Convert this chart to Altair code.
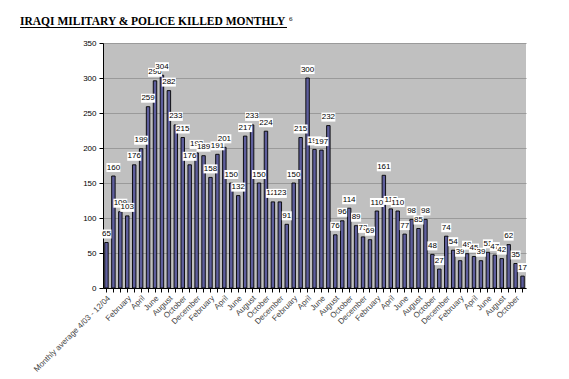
import json
import altair as alt
import pandas as pd

TITLE = "IRAQI MILITARY & POLICE KILLED MONTHLY"
FOOTNOTE = "6"

months = ["January", "February", "March", "April", "May", "June", "July",
          "August", "September", "October", "November", "December"]

categories = (["Monthly average 4/03 - 12/04", "", ""]
              + months * 4 + months[:11])

values = [65, 160, None,
          109, 103, 176, 199, 259, 296, 304, 282, 233, 215, 176, 193,
          189, 158, 191, 201, 150, 132, 217, 233, 150, 224, 123, 123,
          91, 150, 215, 300, 198, 197, 232, 76, 96, 114, 89, 73,
          69, 110, 161, 113, 110, 77, 98, 85, 98, 48, 27, 74,
          54, 39, 49, 45, 39, 51, 47, 42, 62, 35, 17]

y_ticks = [0, 50, 100, 150, 200, 250, 300, 350]

df = pd.DataFrame({"idx": list(range(len(categories))),
                   "cat": categories, "value": values})
df["w"] = df["value"].apply(lambda v: 14 if (v == v and v is not None and v >= 100) else 10)

shown = [c if i % 2 == 0 else "" for i, c in enumerate(categories)]
label_expr = json.dumps(shown) + "[datum.value]"

x_enc = alt.X("idx:O", sort=None, title=None,
              scale=alt.Scale(paddingInner=0.5, paddingOuter=0.25),
              axis=alt.Axis(labelExpr=label_expr, labelAngle=-45,
                            labelFont="Liberation Sans", labelFontSize=8,
                            labelColor="#444444", labelOverlap=False,
                            labelPadding=2, tickSize=4, tickColor="#000000",
                            domainColor="#000000", grid=False))
y_enc = alt.Y("value:Q", title=None,
              scale=alt.Scale(domain=[0, 350], nice=False),
              axis=alt.Axis(values=y_ticks, tickCount=8, tickSize=4,
                            tickColor="#000000", labelOverlap=False,
                            domainColor="#000000", labelFont="Liberation Sans",
                            labelFontSize=8, labelColor="#000000",
                            labelPadding=3, grid=True, gridColor="#9A9A9A"))

base = alt.Chart(df)

bars = base.mark_bar(fill="#5E5E9C", stroke="#000000", strokeWidth=0.9).encode(
    x=x_enc, y=y_enc)

# data labels: white box + number, drawn bar by bar so later boxes cover earlier text
label_layers = []
for i, v in enumerate(values):
    if v is None:
        continue
    sub = base.transform_filter(alt.datum.idx == i)
    label_layers.append(sub.mark_bar(fill="#FFFFFF", yOffset=-4, y2Offset=-13).encode(
        x=x_enc, y=y_enc, y2=alt.Y2("value"),
        size=alt.Size("w:Q", scale=None, legend=None)))
    label_layers.append(sub.mark_text(font="Liberation Sans", fontSize=8,
                                      color="#000000", dy=-8.5,
                                      baseline="middle").encode(
        x=x_enc, y=y_enc, text=alt.Text("value:Q", format="d")))

tdf = pd.DataFrame({"t": [TITLE]})
title_txt = alt.Chart(tdf).mark_text(font="Liberation Serif", fontSize=11.5,
                                     fontWeight="bold", align="left",
                                     baseline="alphabetic", color="#000000").encode(
    x=alt.value(-83), y=alt.value(-18), text="t:N")
underline = alt.Chart(tdf).mark_rule(color="#000000", strokeWidth=1.2).encode(
    x=alt.value(-83), x2=alt.value(184), y=alt.value(-15.5))
fdf = pd.DataFrame({"t": [FOOTNOTE]})
foot = alt.Chart(fdf).mark_text(font="Liberation Serif", fontSize=7,
                                align="left", baseline="alphabetic",
                                color="#000000").encode(
    x=alt.value(186), y=alt.value(-22), text="t:N")

chart = alt.layer(bars, *label_layers, title_txt, underline, foot).properties(
    width=423, height=245,
    autosize=alt.AutoSizeParams(type="none"),
    padding={"left": 95, "top": 35, "right": 35, "bottom": 85},
).configure_view(fill="#C0C0C0", stroke=None)

chart.save("out.html", embed_options={"renderer": "svg", "actions": False})
